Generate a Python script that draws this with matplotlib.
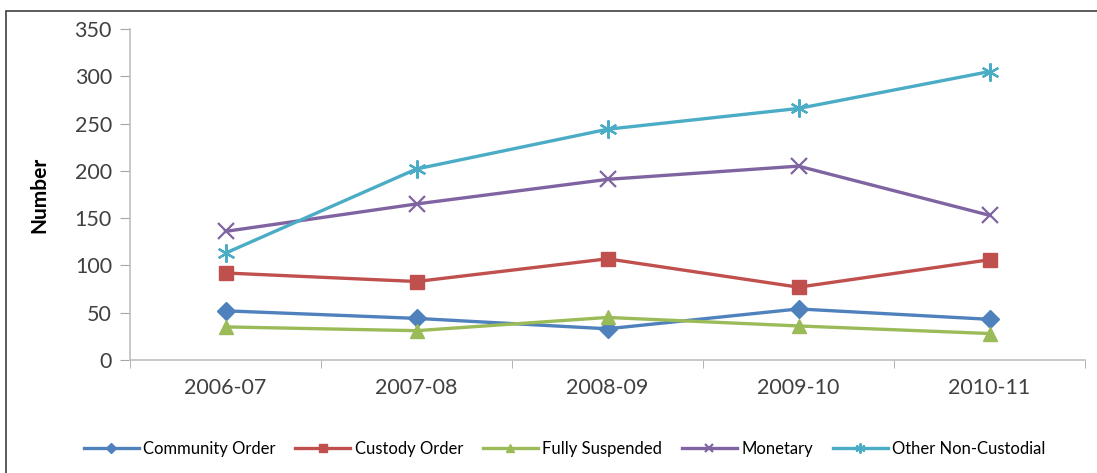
import numpy as np
import matplotlib
matplotlib.use("Agg")
import matplotlib.pyplot as plt
from matplotlib.patches import Rectangle

plt.rcParams['font.family'] = ['Lato', 'DejaVu Sans']

years = ['2006-07', '2007-08', '2008-09', '2009-10', '2010-11']
community = [52, 44, 33, 54, 43]
custody = [92, 83, 107, 77, 106]
suspended = [35, 31, 45, 36, 28]
monetary = [136, 165, 191, 205, 153]
other = [113, 202, 244, 266, 305]

series = [
    ('Community Order', community, '#4F81BD', 'D', 9),
    ('Custody Order', custody, '#C0504D', 's', 10),
    ('Fully Suspended', suspended, '#9BBB59', '^', 10),
    ('Monetary', monetary, '#8064A2', 'x', 11),
    ('Other Non-Custodial', other, '#4BACC6', (6, 2, 0), 13),
]

fig = plt.figure(figsize=(10.97, 4.73), dpi=100)
ax = fig.add_axes([130/1097, 1-360/473, (1085-130)/1097, (360-29)/473])

x = np.arange(len(years))
for name, vals, col, mk, ms in series:
    ax.plot(x, vals, color=col, lw=2.4, marker=mk, markersize=ms,
            markeredgewidth=1.6 if mk in ('x', (6, 2, 0)) else 1,
            markeredgecolor=col, markerfacecolor=col, label=name)

ax.set_xlim(-0.5, 4.5)
ax.set_ylim(0, 350)
ax.set_yticks(np.arange(0, 351, 50))
ax.set_xticks(x)
ax.set_xticklabels(years)
ax.set_xticks(np.arange(-0.5, 4.6, 1), minor=True)
ax.tick_params(axis='x', which='major', length=0, pad=13, labelsize=15.5, labelcolor='#404040')
ax.tick_params(axis='x', which='minor', length=6, color='#A6A6A6', direction='out')
ax.tick_params(axis='y', length=7, color='#A6A6A6', labelsize=15.5, labelcolor='#404040', pad=6)

for s in ['top', 'right']:
    ax.spines[s].set_visible(False)
for s in ['left', 'bottom']:
    ax.spines[s].set_color('#BFBFBF')
    ax.spines[s].set_linewidth(1.2)

ax.set_ylabel('Number', fontsize=15, fontweight='bold', labelpad=18)

leg = ax.legend(loc='center', bbox_to_anchor=(0.455, (360-449)/331), ncol=5,
                frameon=False, fontsize=12, handlelength=3.3, columnspacing=1.2,
                handletextpad=0.25, markerscale=0.55)

fig.patches.append(Rectangle((6/1097, -0.05), 1.2, 1-11/473+0.05, transform=fig.transFigure,
                             fill=False, edgecolor='#404040', lw=1.2))

fig.savefig('out.png', dpi=100)
